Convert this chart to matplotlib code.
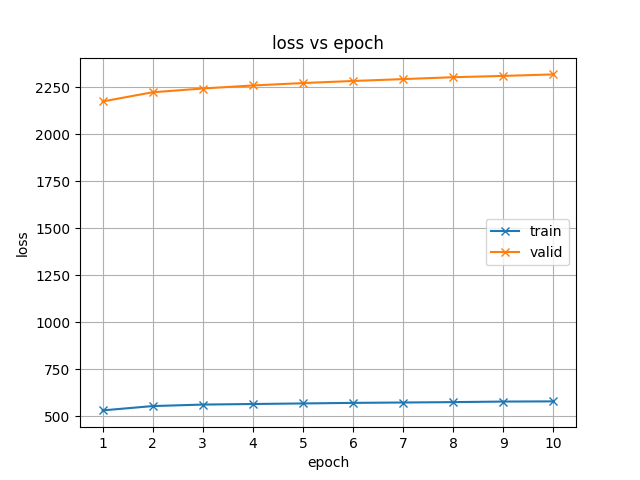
import matplotlib
matplotlib.use("Agg")
import matplotlib.pyplot as plt

epochs = [1, 2, 3, 4, 5, 6, 7, 8, 9, 10]
train_loss = [532, 555, 563, 566, 569, 572, 574, 576, 579, 580]
valid_loss = [2175, 2224, 2244, 2260, 2273, 2284, 2294, 2304, 2311, 2319]

fig = plt.figure(figsize=(6.4, 4.8), dpi=100)
plt.plot(epochs, train_loss, marker='x', label='train')
plt.plot(epochs, valid_loss, marker='x', label='valid')
plt.xticks(epochs)
plt.xlabel('epoch')
plt.ylabel('loss')
plt.title('loss vs epoch')
plt.legend(loc='center right')
plt.grid()
plt.savefig('out.png')
